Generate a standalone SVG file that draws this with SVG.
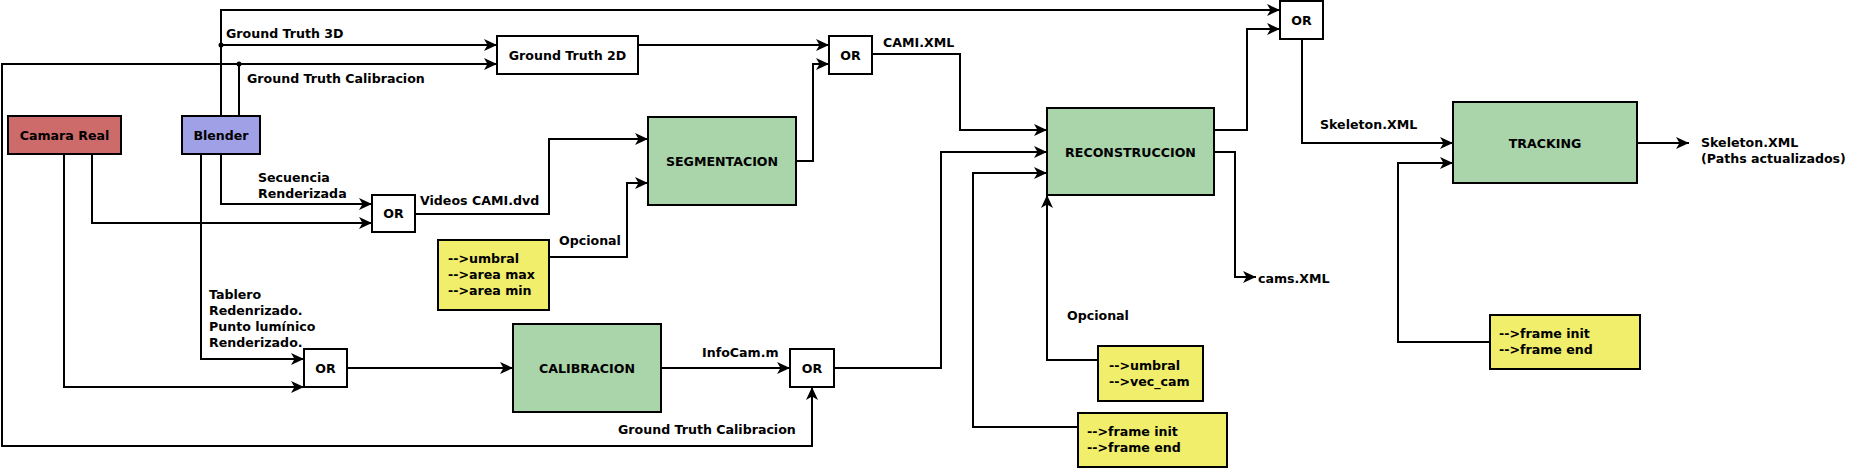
<svg xmlns="http://www.w3.org/2000/svg" width="1850" height="469" viewBox="0 0 1850 469">
<style>
text{font-family:"DejaVu Sans","Liberation Sans",sans-serif;font-weight:bold;font-size:12.6px;fill:#000}
.c{text-anchor:middle}
.box{stroke:#000;stroke-width:2}
.w{fill:#fff}.r{fill:#cd6a6a}.b{fill:#a0a0e6}.g{fill:#aad4aa}.y{fill:#f0ee6a}
.ln{fill:none;stroke:#000;stroke-width:2}
.a{marker-end:url(#ah)}
</style>
<defs>
<marker id="ah" markerUnits="userSpaceOnUse" markerWidth="14" markerHeight="13" refX="13" refY="6" orient="auto">
<path d="M0,0 L13,6 L0,12 L3.5,6 Z" fill="#000"/>
</marker>
</defs>
<rect width="1850" height="469" fill="#fff"/>
<g id="connectors">
<path class="ln a" d="M221,116 V10 H1280"/>
<path class="ln a" d="M221,45 H497"/>
<path class="ln" d="M239,116 V64"/>
<path class="ln a" d="M2,64 H497"/>
<path class="ln a" d="M239,64 H2 V446 H812 V387"/>
<path class="ln a" d="M638,45 H829"/>
<path class="ln a" d="M796,161 H813 V64 H829"/>
<path class="ln a" d="M872,54 H960 V130 H1047"/>
<path class="ln a" d="M221,154 V204 H372"/>
<path class="ln a" d="M92,154 V223 H372"/>
<path class="ln a" d="M415,214 H549 V139 H648"/>
<path class="ln a" d="M549,257 H627 V183 H648"/>
<path class="ln a" d="M201,154 V359 H304"/>
<path class="ln a" d="M64,154 V387 H304"/>
<path class="ln a" d="M347,368 H513"/>
<path class="ln a" d="M661,368 H790"/>
<path class="ln a" d="M834,368 H941 V152 H1047"/>
<path class="ln a" d="M1078,427 H973 V173 H1047"/>
<path class="ln a" d="M1098,360 H1047 V195"/>
<path class="ln a" d="M1214,130 H1247 V29 H1280"/>
<path class="ln a" d="M1214,152 H1235 V277 H1256"/>
<path class="ln a" d="M1302,39 V143 H1453"/>
<path class="ln a" d="M1490,342 H1398 V163 H1453"/>
<path class="ln a" d="M1637,143 H1689"/>
<circle cx="221" cy="45" r="2.5" fill="#000"/>
<circle cx="239" cy="64" r="2.5" fill="#000"/>
</g>
<g id="labels">
<text x="226" y="38">Ground Truth 3D</text>
<text x="247" y="83">Ground Truth Calibracion</text>
<text x="258" y="182">Secuencia</text>
<text x="258" y="198">Renderizada</text>
<text x="420" y="205">Videos CAMI.dvd</text>
<text x="559" y="245">Opcional</text>
<text x="209" y="299">Tablero</text>
<text x="209" y="315">Redenrizado.</text>
<text x="209" y="331">Punto lumínico</text>
<text x="209" y="347">Renderizado.</text>
<text x="883" y="47">CAMI.XML</text>
<text x="702" y="357">InfoCam.m</text>
<text x="618" y="434">Ground Truth Calibracion</text>
<text x="1067" y="320">Opcional</text>
<text x="1258" y="283">cams.XML</text>
<text x="1320" y="129">Skeleton.XML</text>
<text x="1701" y="147">Skeleton.XML</text>
<text x="1701" y="163">(Paths actualizados)</text>
</g>
<g id="camara-real"><rect class="box r" x="8" y="116" width="113" height="38"/><text class="c" x="64.5" y="140">Camara Real</text></g>
<g id="blender"><rect class="box b" x="182" y="116" width="78" height="38"/><text class="c" x="221" y="140">Blender</text></g>
<g id="gt2d"><rect class="box w" x="497" y="36" width="141" height="38"/><text class="c" x="567.5" y="59.5">Ground Truth 2D</text></g>
<g id="or2"><rect class="box w" x="829" y="36" width="43" height="38"/><text class="c" x="850.5" y="59.5">OR</text></g>
<g id="or3"><rect class="box w" x="1280" y="1" width="43" height="38"/><text class="c" x="1301.5" y="24.5">OR</text></g>
<g id="segmentacion"><rect class="box g" x="648" y="117" width="148" height="88"/><text class="c" x="722" y="165.5">SEGMENTACION</text></g>
<g id="or1"><rect class="box w" x="372" y="195" width="43" height="37"/><text class="c" x="393.5" y="218">OR</text></g>
<g id="reconstruccion"><rect class="box g" x="1047" y="108" width="167" height="87"/><text class="c" x="1130.5" y="156.5">RECONSTRUCCION</text></g>
<g id="tracking"><rect class="box g" x="1453" y="102" width="184" height="81"/><text class="c" x="1545" y="147.5">TRACKING</text></g>
<g id="or0"><rect class="box w" x="304" y="349" width="43" height="38"/><text class="c" x="325.5" y="372.5">OR</text></g>
<g id="calibracion"><rect class="box g" x="513" y="324" width="148" height="88"/><text class="c" x="587" y="372.5">CALIBRACION</text></g>
<g id="or4"><rect class="box w" x="790" y="349" width="44" height="38"/><text class="c" x="812" y="372.5">OR</text></g>
<g id="param-seg"><rect class="box y" x="438" y="240" width="111" height="70"/><text x="448" y="263">--&gt;umbral</text><text x="448" y="279">--&gt;area max</text><text x="448" y="295">--&gt;area min</text></g>
<g id="param-recon1"><rect class="box y" x="1098" y="346" width="105" height="55"/><text x="1109" y="370">--&gt;umbral</text><text x="1109" y="386">--&gt;vec_cam</text></g>
<g id="param-recon2"><rect class="box y" x="1078" y="413" width="149" height="54"/><text x="1087" y="436">--&gt;frame init</text><text x="1087" y="452">--&gt;frame end</text></g>
<g id="param-track"><rect class="box y" x="1490" y="315" width="150" height="54"/><text x="1499" y="338">--&gt;frame init</text><text x="1499" y="354">--&gt;frame end</text></g>
</svg>
